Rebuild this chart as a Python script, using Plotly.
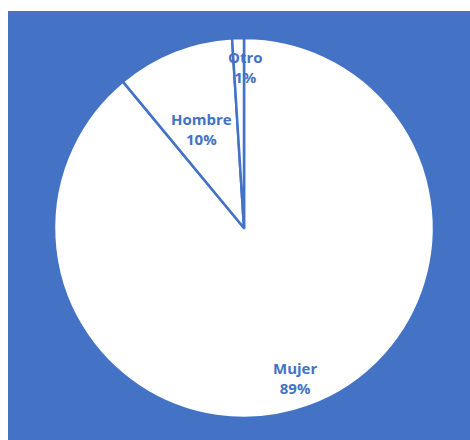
import math
import plotly.graph_objects as go

labels = ["Mujer", "Hombre", "Otro"]
values = [89, 10, 1]
pct_text = ["89%", "10%", "1%"]

BLUE = "#4472C4"
W, H = 470, 440

# pie geometry (pixels)
cx, cy, R = 244, 228, 190
label_rfrac = [0.84, 0.56, 0.85]
label_xshift = [-3, -3, 7]

fig = go.Figure()
fig.add_trace(go.Pie(
    labels=labels, values=values, sort=False, direction="clockwise", rotation=0,
    marker=dict(colors=["white"] * len(values), line=dict(color=BLUE, width=2.5)),
    textinfo="none", hoverinfo="label+percent", showlegend=False,
    domain=dict(x=[(cx - R) / W, (cx + R) / W], y=[1 - (cy + R) / H, 1 - (cy - R) / H]),
))

total = sum(values)
cum = 0
for lab, v, pt, rf, xs in zip(labels, values, pct_text, label_rfrac, label_xshift):
    mid = (cum + v / 2) / total * 2 * math.pi
    cum += v
    px = cx + rf * R * math.sin(mid)
    py = cy - rf * R * math.cos(mid)
    fig.add_annotation(
        x=px / W, y=1 - py / H, xref="paper", yref="paper",
        xanchor="center", yanchor="middle", xshift=xs,
        text=f"<b>{lab}</b><br><b>{pt}</b>", showarrow=False,
        font=dict(family="Open Sans", size=15, color=BLUE),
        align="center",
    )

fig.add_shape(type="rect", xref="paper", yref="paper",
              x0=8 / W, x1=1, y0=0, y1=1 - 11 / H,
              fillcolor=BLUE, line=dict(width=0), layer="below")

fig.update_layout(
    width=W, height=H, margin=dict(l=0, r=0, t=0, b=0),
    paper_bgcolor="white", plot_bgcolor="white",
)
fig.write_html("out.html")
